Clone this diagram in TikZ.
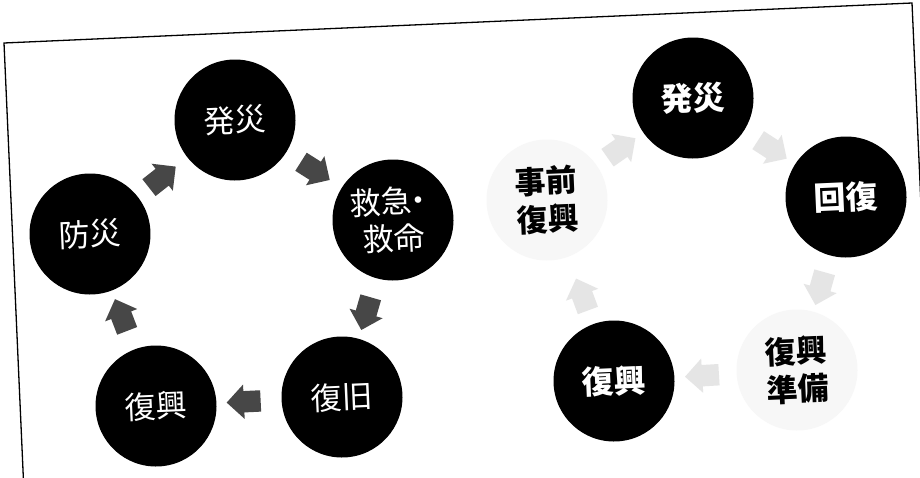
\documentclass[tikz,border=0pt]{standalone}
\usepackage{fontspec}
\newfontfamily\jp{Noto Sans CJK JP}
\usetikzlibrary{shapes.arrows,calc}
\tikzset{
  blk/.style={circle, fill=black, minimum size=121pt, inner sep=0pt, text=white,
    font=\jp\fontsize{31}{37}\selectfont, align=center, rotate=2.5},
  blkb/.style={blk, font=\jp\bfseries\fontsize{32}{38}\selectfont},
  ghost/.style={circle, fill=black!3, minimum size=121pt, inner sep=0pt, text=black,
    font=\jp\bfseries\fontsize{31}{38}\selectfont, align=center, rotate=2.5},
  darkarrow/.style={single arrow, fill=black!72, minimum height=34pt,
    inner xsep=0pt, inner ysep=10.5pt, single arrow head extend=6.5pt},
  lightarrow/.style={darkarrow, fill=black!10},
  frame/.style={line width=1.3pt, draw=black}
}
\newcommand\blockarrow[5]{%
  \path let \p1=($(#3)-(#2)$), \n1={atan2(\y1,\x1)} in
    node[#4, rotate=\n1] (#1) at ($(#2)!#5!(#3)$) {};}
\begin{document}
\begin{tikzpicture}[x=1pt,y=-1pt]
\useasboundingbox (0,0) rectangle (920,477);
\clip (0,0) rectangle (920,477);
\fill[white] (0,0) rectangle (920,477);
\draw[frame] (4,43) -- (912,3) -- (935,520) -- (27,560) -- cycle;
% left cycle
\node[blk] (h1) at (235,120) {発災};
\node[blk] (q1) at (393,220) {救急\hspace{-0.3em}・\hspace{-0.3em}\\救命};
\node[blk] (f1) at (342,397) {復旧};
\node[blk] (k1) at (156,406) {復興};
\node[blk] (b1) at (90,234) {防災};
\blockarrow{a1}{b1}{h1}{darkarrow}{0.47}
\blockarrow{a2}{h1}{q1}{darkarrow}{0.48}
\blockarrow{a3}{q1}{f1}{darkarrow}{0.5}
\blockarrow{a4}{f1}{k1}{darkarrow}{0.5}
\blockarrow{a5}{k1}{b1}{darkarrow}{0.5}
% right cycle
\node[ghost] (j2) at (547,200) {事前\\復興};
\node[blkb] (h2) at (693,98) {発災};
\node[blkb] (r2) at (846,197) {回復};
\node[ghost] (p2) at (797,370) {復興\\準備};
\node[blkb] (k2) at (614,381) {復興};
\blockarrow{a6}{j2}{h2}{lightarrow}{0.48}
\blockarrow{a7}{h2}{r2}{lightarrow}{0.49}
\blockarrow{a8}{r2}{p2}{lightarrow}{0.5}
\blockarrow{a9}{p2}{k2}{lightarrow}{0.49}
\blockarrow{a10}{k2}{j2}{lightarrow}{0.45}
\end{tikzpicture}
\end{document}
